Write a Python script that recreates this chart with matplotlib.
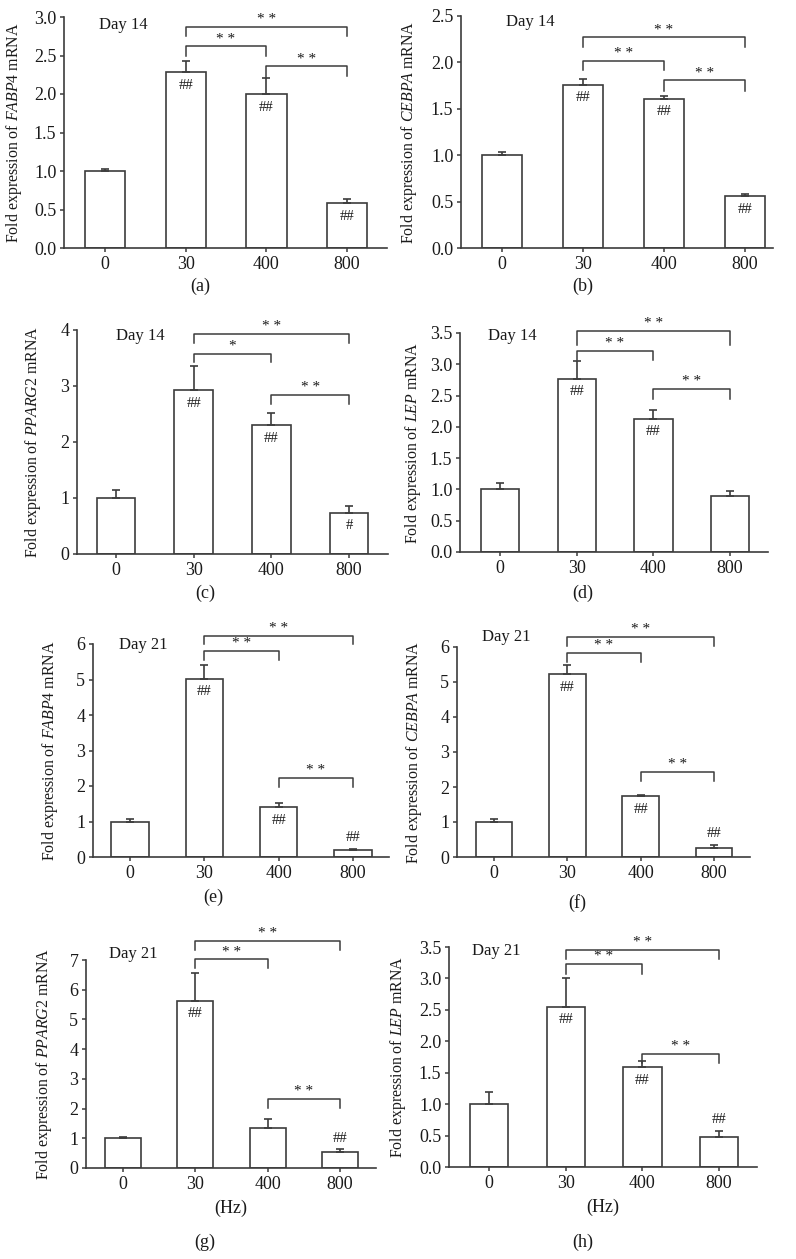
import matplotlib
matplotlib.use("Agg")
import matplotlib.pyplot as plt
import numpy as np

plt.rcParams['font.family'] = ['Liberation Serif', 'DejaVu Serif']
plt.rcParams['mathtext.fontset'] = 'custom'
plt.rcParams['mathtext.rm'] = 'Liberation Serif'
plt.rcParams['mathtext.it'] = 'Liberation Serif:italic'

# ---------------- data ----------------
categories = ['0', '30', '400', '800']

genes = ['FABP4', 'CEBPA', 'PPARG2', 'LEP', 'FABP4', 'CEBPA', 'PPARG2', 'LEP']
days = ['Day 14', 'Day 14', 'Day 14', 'Day 14', 'Day 21', 'Day 21', 'Day 21', 'Day 21']
panel_letters = ['(a)', '(b)', '(c)', '(d)', '(e)', '(f)', '(g)', '(h)']

means_a = [1.00, 2.28, 2.00, 0.58]
upper_a = [1.02, 2.43, 2.21, 0.64]
means_b = [1.00, 1.76, 1.61, 0.555]
upper_b = [1.03, 1.82, 1.64, 0.577]
means_c = [1.00, 2.92, 2.30, 0.74]
upper_c = [1.14, 3.36, 2.51, 0.85]
means_d = [1.00, 2.77, 2.13, 0.895]
upper_d = [1.11, 3.05, 2.27, 0.975]
means_e = [1.00, 5.02, 1.41, 0.19]
upper_e = [1.07, 5.40, 1.51, 0.225]
means_f = [1.00, 5.23, 1.73, 0.27]
upper_f = [1.08, 5.50, 1.78, 0.34]
means_g = [1.00, 5.63, 1.36, 0.53]
upper_g = [1.055, 6.55, 1.64, 0.63]
means_h = [1.01, 2.55, 1.59, 0.47]
upper_h = [1.20, 3.00, 1.68, 0.58]

# significance marks vs control: (label, placement)
marks_a = [('', ''), ('##', 'in'), ('##', 'in'), ('##', 'in')]
marks_b = [('', ''), ('##', 'in'), ('##', 'in'), ('##', 'in')]
marks_c = [('', ''), ('##', 'in'), ('##', 'in'), ('#', 'in')]
marks_d = [('', ''), ('##', 'in'), ('##', 'in'), ('', '')]
marks_e = [('', ''), ('##', 'in'), ('##', 'in'), ('##', 'above')]
marks_f = [('', ''), ('##', 'in'), ('##', 'in'), ('##', 'above')]
marks_g = [('', ''), ('##', 'in'), ('', ''), ('##', 'above')]
marks_h = [('', ''), ('##', 'in'), ('##', 'in'), ('##', 'above')]

# brackets: (from, to, line y, left tick end y, right tick end y, label)
brackets_a = [(1, 3, 2.87, 2.75, 2.75, '* *'), (1, 2, 2.62, 2.49, 2.49, '* *'), (2, 3, 2.36, 2.21, 2.24, '* *')]
brackets_b = [(1, 3, 2.27, 2.17, 2.17, '* *'), (1, 2, 2.02, 1.92, 1.92, '* *'), (2, 3, 1.805, 1.69, 1.69, '* *')]
brackets_c = [(1, 3, 3.93, 3.76, 3.76, '* *'), (1, 2, 3.58, 3.42, 3.42, '*'), (2, 3, 2.84, 2.68, 2.68, '* *')]
brackets_d = [(1, 3, 3.53, 3.31, 3.31, '* *'), (1, 2, 3.22, 3.07, 3.07, '* *'), (2, 3, 2.605, 2.45, 2.45, '* *')]
brackets_e = [(1, 3, 6.23, 6.00, 6.00, '* *'), (1, 2, 5.81, 5.54, 5.54, '* *'), (2, 3, 2.22, 1.96, 1.96, '* *')]
brackets_f = [(1, 3, 6.29, 6.03, 6.03, '* *'), (1, 2, 5.83, 5.56, 5.56, '* *'), (2, 3, 2.43, 2.17, 2.17, '* *')]
brackets_g = [(1, 3, 7.64, 7.34, 7.34, '* *'), (1, 2, 7.02, 6.72, 6.72, '* *'), (2, 3, 2.32, 2.03, 2.03, '* *')]
brackets_h = [(1, 3, 3.46, 3.31, 3.31, '* *'), (1, 2, 3.23, 3.07, 3.07, '* *'), (2, 3, 1.80, 1.65, 1.65, '* *')]

yticks_a = [0, 0.5, 1.0, 1.5, 2.0, 2.5, 3.0]
yticks_b = [0, 0.5, 1.0, 1.5, 2.0, 2.5]
yticks_c = [0, 1, 2, 3, 4]
yticks_d = [0, 0.5, 1.0, 1.5, 2.0, 2.5, 3.0, 3.5]
yticks_e = [0, 1, 2, 3, 4, 5, 6]
yticks_f = [0, 1, 2, 3, 4, 5, 6]
yticks_g = [0, 1, 2, 3, 4, 5, 6, 7]
yticks_h = [0, 0.5, 1.0, 1.5, 2.0, 2.5, 3.0, 3.5]

means = [means_a, means_b, means_c, means_d, means_e, means_f, means_g, means_h]
uppers = [upper_a, upper_b, upper_c, upper_d, upper_e, upper_f, upper_g, upper_h]
marks = [marks_a, marks_b, marks_c, marks_d, marks_e, marks_f, marks_g, marks_h]
brackets = [brackets_a, brackets_b, brackets_c, brackets_d, brackets_e, brackets_f, brackets_g, brackets_h]
yticks = [yticks_a, yticks_b, yticks_c, yticks_d, yticks_e, yticks_f, yticks_g, yticks_h]
ytick_fmt = ['%.1f', '%.1f', '%d', '%.1f', '%d', '%d', '%d', '%.1f']
xlabels = ['', '', '', '', '', '', '(Hz)', '(Hz)']

# ---------------- layout (pixels) ----------------
W, H = 796, 1259
# (axis x0, axis x right, y top, y zero, centre of first bar, centre of last bar)
layout = [
    (64, 387, 17, 248, 105, 347),
    (461, 773, 16, 248, 502, 745),
    (77, 388, 330, 554, 116, 349),
    (460, 768, 333, 552, 500, 730),
    (93, 389, 644, 857, 130, 353),
    (457, 750, 647, 857, 494, 714),
    (86, 376, 960, 1168, 123, 340),
    (449, 757, 947, 1167, 489, 719),
]
ylabel_offset = [40, 42, 34, 37, 33, 33, 32, 41]
letter_pos = [(200, 286), (583, 286), (205, 593), (583, 593), (213, 897), (577, 903), (205, 1242), (583, 1242)]
day_pos = [(123, 25), (530, 22), (140, 336), (512, 336), (143, 645), (506, 637), (133, 954), (496, 951)]

LC = '#3c3c3c'
TC = '#1a1a1a'

fig = plt.figure(figsize=(W / 100, H / 100), dpi=100)
fig.patch.set_facecolor('white')

for k in range(8):
    x0, xr, yt, yz, c0, c3 = layout[k]
    sp = (c3 - c0) / 3.0
    xmin = -(c0 - x0) / sp
    xmax = 3 + (xr - c3) / sp
    ymax = yticks[k][-1]
    ax = fig.add_axes([x0 / W, 1 - yz / H, (xr - x0) / W, (yz - yt) / H])
    ax.set_xlim(xmin, xmax)
    ax.set_ylim(0, ymax)
    xs = np.arange(len(categories))
    m = np.array(means[k])
    u = np.array(uppers[k])
    ax.bar(xs, m, width=0.5, color='white', edgecolor=LC, linewidth=1.2, zorder=2)
    ax.errorbar(xs, m, yerr=[np.zeros_like(m), u - m], fmt='none', ecolor=LC,
                elinewidth=1.2, capsize=3, capthick=1.2, zorder=3, clip_on=False)
    for i, (lab, place) in enumerate(marks[k]):
        if not lab:
            continue
        if place == 'in':
            ax.annotate(lab, (xs[i], m[i]), xytext=(0, -9.5), textcoords='offset points',
                        ha='center', va='center', fontsize=10.5, color=TC,
                        annotation_clip=False)
        else:
            ax.annotate(lab, (xs[i], u[i]), xytext=(0, 8), textcoords='offset points',
                        ha='center', va='center', fontsize=10.5, color=TC,
                        annotation_clip=False)
    for (i, j, yl, yle, yre, lab) in brackets[k]:
        ax.plot([i, i, j, j], [yle, yl, yl, yre], color=LC, linewidth=1.1,
                clip_on=False, zorder=4)
        ax.annotate(lab, ((i + j) / 2, yl), xytext=(0, 0.5), textcoords='offset points',
                    ha='center', va='bottom', fontsize=11, color=TC,
                    annotation_clip=False)
    ax.set_xticks(xs)
    ax.set_xticklabels(categories)
    ax.set_yticks(yticks[k])
    ax.set_yticklabels([ytick_fmt[k] % v for v in yticks[k]])
    ax.tick_params(axis='both', direction='out', length=3, width=1.1, color=LC,
                   labelsize=13, labelcolor=TC, pad=2.5)
    for s in ['top', 'right']:
        ax.spines[s].set_visible(False)
    for s in ['left', 'bottom']:
        ax.spines[s].set_color(LC)
        ax.spines[s].set_linewidth(1.2)
    ax.set_ylabel('Fold expression of $\\mathit{%s}$ mRNA' % genes[k], fontsize=11.4, color=TC)
    ax.yaxis.set_label_coords(-ylabel_offset[k] / (xr - x0), 0.5)
    if xlabels[k]:
        ax.set_xlabel(xlabels[k], fontsize=13, color=TC, labelpad=5)
    fig.text(day_pos[k][0] / W, 1 - day_pos[k][1] / H, days[k], fontsize=12,
             color=TC, ha='center', va='center')
    fig.text(letter_pos[k][0] / W, 1 - letter_pos[k][1] / H, panel_letters[k],
             fontsize=13, color=TC, ha='center', va='center')

fig.savefig('out.png', dpi=100, facecolor='white')
